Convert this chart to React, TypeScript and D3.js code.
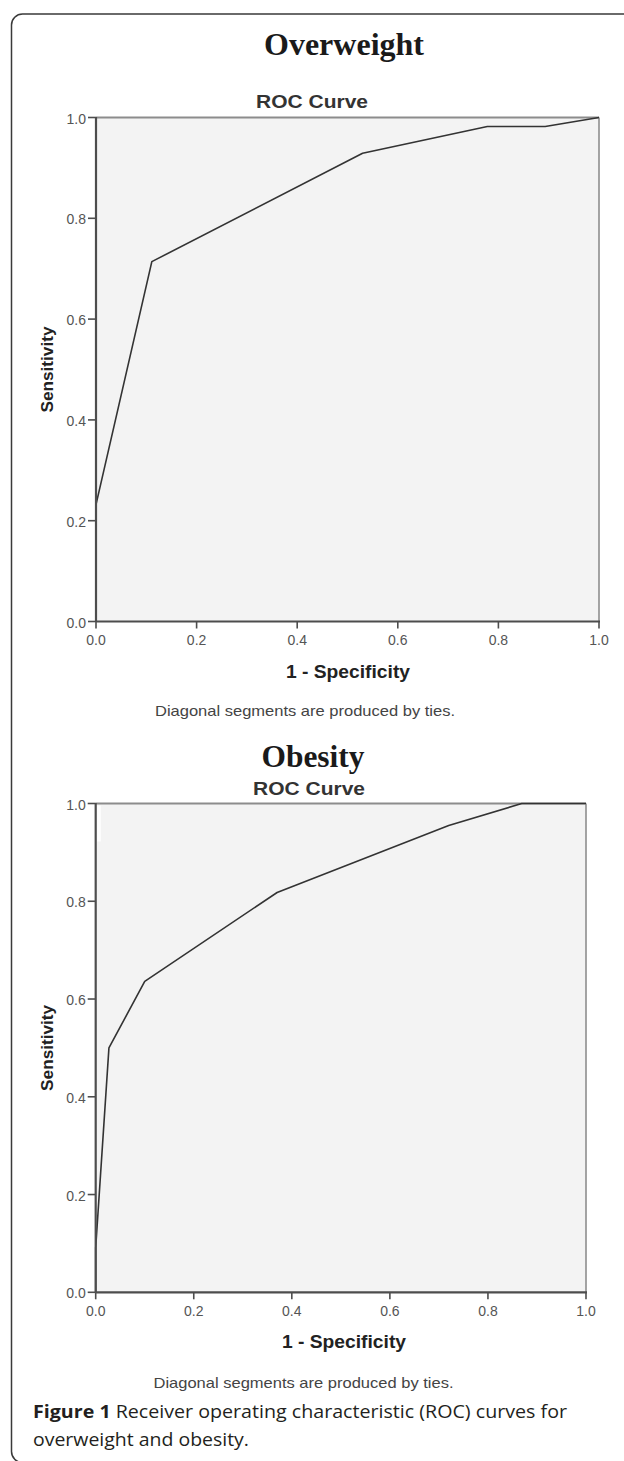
import React from "react";
import * as d3 from "d3";

// ---- data ----
const panelTitles = ["Overweight", "Obesity"];
const chartTitle = "ROC Curve";
const xAxisLabel = "1 - Specificity";
const yAxisLabel = "Sensitivity";
const footNote = "Diagonal segments are produced by ties.";
const tickValues = [0, 0.2, 0.4, 0.6, 0.8, 1.0];

const overweightFpr = [0, 0, 0.111, 0.53, 0.778, 0.893, 1];
const overweightTpr = [0, 0.232, 0.714, 0.929, 0.982, 0.982, 1];

const obesityFpr = [0, 0, 0.027, 0.1, 0.37, 0.72, 0.869, 1];
const obesityTpr = [0, 0.091, 0.5, 0.636, 0.818, 0.955, 1, 1];

const captionBold = "Figure 1";
const captionLine1 = " Receiver operating characteristic (ROC) curves for";
const captionLine2 = "overweight and obesity.";

type Panel = {
  title: string;
  fpr: number[];
  tpr: number[];
  x0: number;
  x1: number;
  yT: number;
  yB: number;
  titleX: number;
  titleY: number;
  titleSize: number;
  titleLen: number;
  rocX: number;
  rocY: number;
  xLabX: number;
  xLabY: number;
  noteX: number;
  noteY: number;
  artifact?: boolean;
};

const panels: Panel[] = [
  {
    title: panelTitles[0], fpr: overweightFpr, tpr: overweightTpr,
    x0: 96, x1: 599, yT: 117.5, yB: 621.5,
    titleX: 344, titleY: 55, titleSize: 32, titleLen: 160,
    rocX: 312, rocY: 108, xLabX: 348, xLabY: 678, noteX: 305, noteY: 716,
  },
  {
    title: panelTitles[1], fpr: obesityFpr, tpr: obesityTpr,
    x0: 95.7, x1: 586, yT: 803.5, yB: 1292.3,
    titleX: 313, titleY: 767, titleSize: 31, titleLen: 103,
    rocX: 309, rocY: 795, xLabX: 344, xLabY: 1348, noteX: 303.5, noteY: 1388,
    artifact: true,
  },
];

const SANS = "'Liberation Sans', Arial, sans-serif";

function RocPanel({ p }: { p: Panel }) {
  const x = d3.scaleLinear().domain([0, 1]).range([p.x0, p.x1]);
  const y = d3.scaleLinear().domain([0, 1]).range([p.yB, p.yT]);
  const pts: [number, number][] = p.fpr.map((f, i) => [f, p.tpr[i]]);
  const line = d3
    .line<[number, number]>()
    .x((d) => x(d[0]))
    .y((d) => y(d[1]));
  const midY = (p.yT + p.yB) / 2;
  return (
    <g>
      <text
        x={p.titleX}
        y={p.titleY}
        textAnchor="middle"
        fontFamily="'Liberation Serif', 'Times New Roman', serif"
        fontWeight="bold"
        fontSize={p.titleSize}
        fill="#1a1a1a"
        textLength={p.titleLen}
        lengthAdjust="spacingAndGlyphs"
      >
        {p.title}
      </text>
      <text
        x={p.rocX}
        y={p.rocY}
        textAnchor="middle"
        fontFamily={SANS}
        fontWeight="bold"
        fontSize={18}
        fill="#333"
        textLength={112}
        lengthAdjust="spacingAndGlyphs"
      >
        {chartTitle}
      </text>
      {/* plot background */}
      <rect x={x(0)} y={y(1)} width={x(1) - x(0)} height={y(0) - y(1)} fill="#f3f3f3" />
      {/* top & right frame */}
      <line x1={x(0)} x2={x(1)} y1={y(1)} y2={y(1)} stroke="#8c8c8c" strokeWidth={1.8} />
      <line x1={x(1)} x2={x(1)} y1={y(1)} y2={y(0)} stroke="#9a9a9a" strokeWidth={1.8} />
      {p.artifact && (
        <rect x={x(0) + 1.5} y={y(1) + 2} width={3.5} height={36} fill="#ffffff" />
      )}
      {/* curve */}
      <path d={line(pts) || ""} fill="none" stroke="#333" strokeWidth={1.6} strokeLinejoin="round" />
      {/* axes */}
      <line x1={x(0)} x2={x(0)} y1={y(1) - 0.5} y2={y(0)} stroke="#4d4d4d" strokeWidth={2.2} />
      <line x1={x(0)} x2={x(1) + 1} y1={y(0)} y2={y(0)} stroke="#4d4d4d" strokeWidth={2.2} />
      {tickValues.map((t) => (
        <g key={"y" + t}>
          <line x1={x(0) - 8} x2={x(0)} y1={y(t)} y2={y(t)} stroke="#4d4d4d" strokeWidth={1.6} />
          <text
            x={x(0) - 10}
            y={y(t) + 6}
            textAnchor="end"
            fontFamily={SANS}
            fontSize={14}
            fill="#555"
          >
            {t.toFixed(1)}
          </text>
        </g>
      ))}
      {tickValues.map((t) => (
        <g key={"x" + t}>
          <line x1={x(t)} x2={x(t)} y1={y(0)} y2={y(0) + 7} stroke="#4d4d4d" strokeWidth={1.6} />
          <text
            x={x(t)}
            y={y(0) + 23.5}
            textAnchor="middle"
            fontFamily={SANS}
            fontSize={14}
            fill="#555"
          >
            {t.toFixed(1)}
          </text>
        </g>
      ))}
      <text
        x={p.xLabX}
        y={p.xLabY}
        textAnchor="middle"
        fontFamily={SANS}
        fontWeight="bold"
        fontSize={18}
        fill="#222"
        textLength={124}
        lengthAdjust="spacingAndGlyphs"
      >
        {xAxisLabel}
      </text>
      <text
        transform={`translate(53,${midY}) rotate(-90)`}
        textAnchor="middle"
        fontFamily={SANS}
        fontWeight="bold"
        fontSize={17}
        fill="#222"
        textLength={86}
        lengthAdjust="spacingAndGlyphs"
      >
        {yAxisLabel}
      </text>
      <text
        x={p.noteX}
        y={p.noteY}
        textAnchor="middle"
        fontFamily={SANS}
        fontSize={15}
        fill="#444"
        textLength={300}
        lengthAdjust="spacingAndGlyphs"
      >
        {footNote}
      </text>
    </g>
  );
}

export default function App() {
  return (
    <svg
      width={624}
      height={1461}
      viewBox="0 0 624 1461"
      style={{ position: "absolute", left: 0, top: 0, display: "block", background: "#fff" }}
    >
      <rect x={0} y={0} width={624} height={1461} fill="#fff" />
      {/* figure frame (right and bottom edges fall outside the crop) */}
      <rect
        x={11.5}
        y={14}
        width={700}
        height={1448.5}
        rx={11}
        ry={11}
        fill="none"
        stroke="#3a3a3a"
        strokeWidth={1.5}
      />
      {panels.map((p, i) => (
        <RocPanel key={i} p={p} />
      ))}
      <text
        x={33}
        y={1418}
        fontFamily="'Open Sans', 'Noto Sans', sans-serif"
        fontSize={18.5}
        fill="#231f20"
        textLength={534}
        lengthAdjust="spacingAndGlyphs"
      >
        <tspan fontWeight="bold">{captionBold}</tspan>
        <tspan>{captionLine1}</tspan>
      </text>
      <text
        x={33}
        y={1446}
        fontFamily="'Open Sans', 'Noto Sans', sans-serif"
        fontSize={18.5}
        fill="#231f20"
        textLength={216}
        lengthAdjust="spacingAndGlyphs"
      >
        {captionLine2}
      </text>
    </svg>
  );
}
